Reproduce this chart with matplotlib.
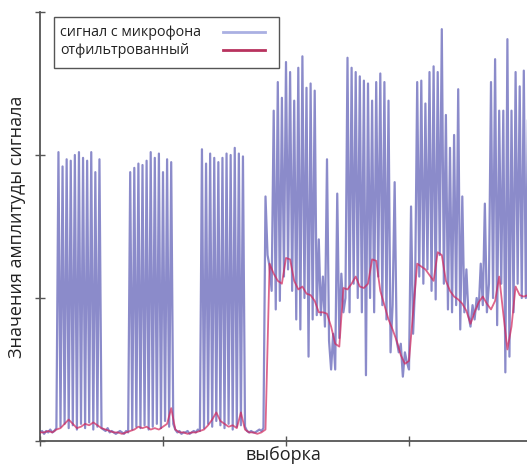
import matplotlib
matplotlib.use("Agg")
import matplotlib.pyplot as plt
from matplotlib.lines import Line2D
from matplotlib.patches import Rectangle
import numpy as np

# Raw microphone signal (one value per sample)
raw_quiet_1 = [0.06, 0.07, 0.05, 0.07, 0.06, 0.08, 0.06, 0.07, 0.09]
raw_burst_1 = [2.02, 0.10, 1.92, 0.12, 1.97, 0.09, 1.96, 0.11, 2.00, 0.08, 2.02,
               0.12, 1.98, 0.09, 1.96, 0.13, 2.02, 0.08, 1.88, 0.10, 1.97]
raw_quiet_2 = [0.09, 0.08, 0.07, 0.09, 0.06, 0.07, 0.06, 0.05, 0.06, 0.07, 0.06, 0.05, 0.07, 0.06]
raw_burst_2 = [1.88, 0.08, 1.91, 0.10, 1.94, 0.09, 1.93, 0.11, 1.96, 0.08, 2.02,
               0.10, 1.98, 0.12, 2.01, 0.09, 1.88, 0.14, 1.97, 0.10, 1.95]
raw_quiet_3 = [0.12, 0.08, 0.06, 0.07, 0.05, 0.06, 0.06, 0.07, 0.05, 0.06, 0.07, 0.06, 0.08, 0.07]
raw_burst_3 = [2.04, 0.09, 1.94, 0.12, 2.01, 0.10, 1.98, 0.14, 1.95, 0.11, 1.98,
               0.09, 2.01, 0.12, 2.00, 0.08, 2.05, 0.10, 2.01, 0.11, 1.99]
raw_quiet_4 = [0.10, 0.07, 0.06, 0.07, 0.06, 0.06, 0.07, 0.08, 0.07, 0.09]
raw_speech = [
    1.71, 1.30, 1.22, 1.05, 2.31, 0.92, 2.51, 0.98, 2.40, 1.15,   # 110-119
    2.65, 1.20, 2.58, 1.05, 2.38, 0.85, 2.61, 0.78, 2.69, 1.00,   # 120-129
    2.47, 0.59, 2.50, 0.85, 2.45, 0.88, 1.41, 0.88, 1.15, 0.80,   # 130-139
    1.97, 0.70, 0.50, 0.75, 0.50, 1.73, 0.72, 1.17, 0.90, 1.00,   # 140-149
    2.68, 0.90, 2.61, 1.10, 2.58, 1.00, 2.55, 0.90, 2.52, 0.46,   # 150-159
    2.50, 1.00, 2.38, 0.90, 2.51, 1.15, 2.57, 0.95, 2.51, 0.85,   # 160-169
    2.38, 0.62, 0.95, 1.81, 0.70, 0.62, 0.68, 0.45, 0.62, 0.55,   # 170-179
    0.50, 1.64, 0.75, 1.10, 2.51, 1.15, 2.52, 1.10, 2.36, 1.20,   # 180-189
    2.58, 1.05, 2.62, 0.99, 2.58, 1.30, 2.88, 1.10, 2.28, 0.92,   # 190-199
    2.05, 0.90, 2.14, 0.95, 2.46, 0.78, 1.71, 0.90, 1.20, 0.88,   # 200-209
    0.80, 0.95, 0.85, 1.00, 0.92, 1.24, 0.95, 1.66, 0.90, 1.10,   # 210-219
    2.51, 1.00, 2.67, 0.81, 2.31, 1.10, 2.31, 0.48, 2.81, 0.59,   # 220-229
    2.31, 0.90, 2.58, 1.10, 2.48, 1.00, 2.59, 1.00, 2.24,         # 230-238
]
raw = (raw_quiet_1 + raw_burst_1 + raw_quiet_2 + raw_burst_2 + raw_quiet_3
       + raw_burst_3 + raw_quiet_4 + raw_speech)

# Filtered signal (one value every second sample)
filtered = [
    0.06, 0.06, 0.07, 0.06, 0.08, 0.09, 0.12, 0.15, 0.12, 0.09,   # 0-18
    0.10, 0.12, 0.11, 0.13, 0.11, 0.09, 0.08, 0.07, 0.06, 0.06,   # 20-38
    0.05, 0.06, 0.07, 0.08, 0.10, 0.09, 0.10, 0.08, 0.09, 0.08,   # 40-58
    0.10, 0.12, 0.23, 0.08, 0.06, 0.06, 0.05, 0.06, 0.06, 0.07,   # 60-78
    0.08, 0.11, 0.15, 0.20, 0.14, 0.12, 0.10, 0.11, 0.09, 0.20,   # 80-98
    0.08, 0.06, 0.06, 0.05, 0.06, 0.08, 1.24, 1.17, 1.12, 1.10,   # 100-118
    1.28, 1.27, 1.12, 1.06, 1.08, 1.03, 1.02, 0.98, 0.90, 0.90,   # 120-138
    0.89, 0.80, 0.68, 0.66, 1.07, 1.06, 1.10, 1.15, 1.08, 1.07,   # 140-158
    1.10, 1.27, 1.26, 1.05, 0.95, 0.85, 0.78, 0.70, 0.60, 0.54,   # 160-178
    0.56, 0.90, 1.24, 1.22, 1.20, 1.16, 1.12, 1.32, 1.30, 1.12,   # 180-198
    1.05, 1.01, 0.99, 0.96, 0.91, 0.82, 0.90, 0.97, 1.01, 0.96,   # 200-218
    0.92, 0.98, 1.15, 0.89, 0.64, 0.80, 1.08, 1.02, 1.01, 1.02,   # 220-238
]

legend_labels = ["сигнал с микрофона", "отфильтрованный"]
legend_colors = ["#aab0e2", "#b8325e"]

x_raw = np.arange(len(raw))
x_filt = np.arange(len(filtered)) * 2

W, H = 527, 468
fig = plt.figure(figsize=(W / 100, H / 100), dpi=100)
ax = fig.add_axes([40 / W, 27 / H, 487 / W, 429 / H])

ax.plot(x_raw, raw, color="#4444aa", alpha=0.62, lw=1.6, zorder=2)
ax.plot(x_filt, filtered, color="#d0245a", alpha=0.7, lw=1.3, zorder=3)

ax.set_xlim(0, 487 / 2.05)
ax.set_ylim(0, 3)
ax.set_xticks([0, 60, 120, 180])
ax.set_yticks([0, 1, 2, 3])
ax.set_xticklabels([])
ax.set_yticklabels([])
ax.tick_params(direction="inout", length=7, width=1.0, color="#555555")
for s in ["top", "right"]:
    ax.spines[s].set_visible(False)
for s in ["left", "bottom"]:
    ax.spines[s].set_color("#555555")
    ax.spines[s].set_linewidth(1.3)

xl = ax.set_xlabel("выборка", fontsize=13, color="#222222", family="Open Sans")
xl.set_va("center")
ax.xaxis.set_label_coords(0.5, (441 - 455) / 429)
yl = ax.set_ylabel("Значения амплитуды сигнала", fontsize=13, color="#222222",
                   family="Open Sans")
yl.set_va("center")
ax.yaxis.set_label_coords((17 - 40) / 487, 0.5)

# Legend box (drawn in figure pixels converted to fractions)
fig.patches.append(Rectangle((54 / W, 1 - 68 / H), (279 - 54) / W, (68 - 17) / H,
                             transform=fig.transFigure, facecolor="white",
                             edgecolor="#555555", lw=1.0, zorder=10))
for k, (lab, col) in enumerate(zip(legend_labels, legend_colors)):
    yy = 1 - (33 + 18 * k) / H
    fig.text(60 / W, yy, lab, fontsize=10.3, family="Open Sans", color="#222222",
             ha="left", va="center", zorder=11)
    fig.add_artist(Line2D([223 / W, 265 / W], [yy + 1 / H, yy + 1 / H],
                          transform=fig.transFigure, color=col, lw=2.0, zorder=11))

fig.savefig("out.png", dpi=100)
